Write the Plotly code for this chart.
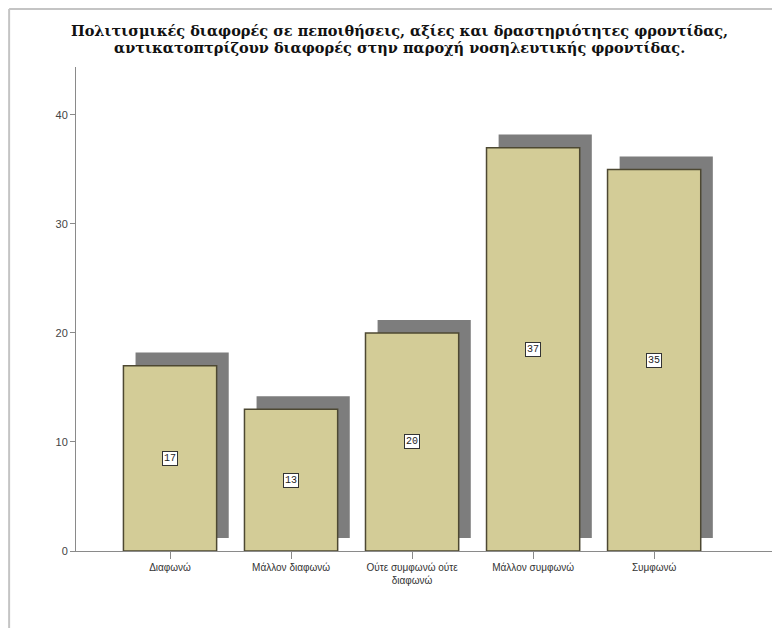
import plotly.graph_objects as go

# ========================================
#        Survey answer distribution
# ========================================

categories = ["Διαφωνώ", "Μάλλον διαφωνώ", "Ούτε συμφωνώ ούτε<br>διαφωνώ",
              "Μάλλον συμφωνώ", "Συμφωνώ"]
counts = [17, 13, 20, 37, 35]
y_ticks = [0, 10, 20, 30, 40]

title_lines = ["Πολιτισμικές διαφορές σε πεποιθήσεις, αξίες και δραστηριότητες φροντίδας,",
               "αντικατοπτρίζουν διαφορές στην παροχή νοσηλευτικής φροντίδας."]

BAR_FILL = "#d3cc97"
BAR_EDGE = "#4d4832"
SHADOW = "#7d7d7d"
AXIS = "#8a8a8a"

x_pos = list(range(len(categories)))
bar_w = 0.77
shadow_dx = 0.1
shadow_dy = 1.2

fig = go.Figure()

# drop shadow: same bars moved right and up
fig.add_trace(go.Bar(
    x=x_pos, y=counts, base=shadow_dy, width=bar_w,
    offset=-bar_w / 2 + shadow_dx,
    marker=dict(color=SHADOW, line=dict(width=0)),
    hoverinfo="skip", showlegend=False,
))

fig.add_trace(go.Bar(
    x=x_pos, y=counts, width=bar_w, offset=-bar_w / 2,
    marker=dict(color=BAR_FILL, line=dict(color=BAR_EDGE, width=1.5)),
    showlegend=False,
))

for xi, v in zip(x_pos, counts):
    fig.add_annotation(
        x=xi, y=v / 2, text=str(v), showarrow=False,
        font=dict(family="Liberation Mono", size=10, color="#222"),
        bgcolor="white", bordercolor="#333", borderwidth=1, borderpad=1,
    )

# title, one annotation per line to keep the tight line spacing
for line, ty in zip(title_lines, [1.0744, 1.0393]):
    fig.add_annotation(
        xref="paper", yref="paper", x=0.46, y=ty, yanchor="middle",
        text=f"<b>{line}</b>", showarrow=False,
        font=dict(family="DejaVu Serif", size=14.5, color="#111"),
    )

# outer frame (top and left edges)
fig.add_shape(type="line", xref="paper", yref="paper",
              x0=-0.095, x1=1.01, y0=1.12, y1=1.12,
              line=dict(color="#c4c4c4", width=2))
fig.add_shape(type="line", xref="paper", yref="paper",
              x0=-0.095, x1=-0.095, y0=1.12, y1=-0.2,
              line=dict(color="#c4c4c4", width=2))

fig.update_layout(
    width=772, height=620,
    margin=dict(l=68, r=0, t=59, b=77),
    paper_bgcolor="white", plot_bgcolor="white",
    barmode="overlay",
    xaxis=dict(
        range=[-0.777, 5.04], tickvals=x_pos, ticktext=categories,
        showline=True, linecolor=AXIS, linewidth=1,
        ticks="outside", ticklen=7, tickcolor=AXIS,
        showgrid=False, zeroline=False,
        tickfont=dict(family="Liberation Sans", size=10, color="#333"),
    ),
    yaxis=dict(
        range=[0, 44.4], tickvals=y_ticks,
        showline=True, linecolor=AXIS, linewidth=1,
        ticks="outside", ticklen=5, tickcolor=AXIS,
        showgrid=False, zeroline=False,
        tickfont=dict(family="Liberation Sans", size=11, color="#444"),
    ),
)

fig.write_html("out.html")
